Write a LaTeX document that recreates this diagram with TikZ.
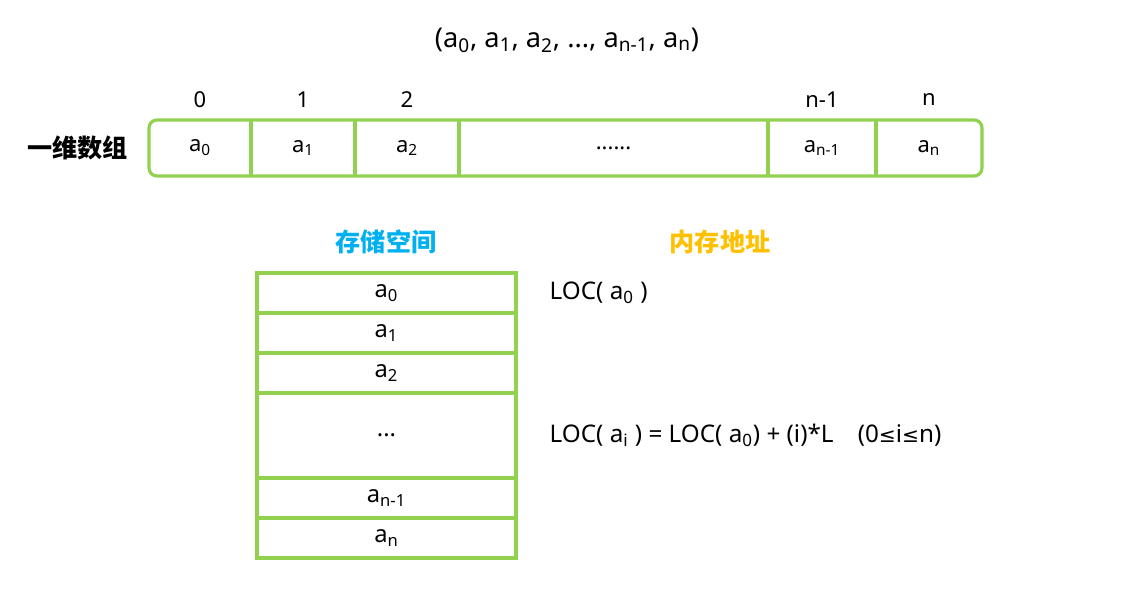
\documentclass[tikz,border=0pt]{standalone}
\usepackage{fontspec}
\setmainfont{Noto Sans}
\newfontfamily\cjkfont{Noto Sans CJK SC}
\newfontfamily\symfont{DejaVu Sans}
\usetikzlibrary{positioning}
\definecolor{cellgreen}{HTML}{92D050}
\definecolor{hdrblue}{HTML}{00B0F0}
\definecolor{hdrgold}{HTML}{FFC000}
\newcommand{\leqsym}{{\symfont\fontsize{11.5}{14}\selectfont ≤}}

\begin{document}
\begin{tikzpicture}[
  cell/.style={minimum height=1.12cm, inner sep=0pt, outer sep=0pt,
               font=\fontsize{12.5}{14}\selectfont},
  idx/.style={font=\fontsize{12.5}{14}\selectfont, inner sep=1pt},
  slot/.style={draw=cellgreen, line width=1.8pt, minimum width=5.18cm,
               minimum height=0.8cm, inner sep=0pt, outer sep=0pt,
               font=\fontsize{13.5}{15}\selectfont},
  hdr/.style={font=\cjkfont\bfseries\fontsize{14.3}{16}\selectfont},
  loc/.style={font=\fontsize{13.8}{16}\selectfont, anchor=west},
  edge/.style={draw=cellgreen, line width=1.8pt},
]
\useasboundingbox (0,0) rectangle (22.56,11.78);

%% ---- Sequence (top) ----
\node[font=\fontsize{15.5}{18}\selectfont] (tup) at (11.34, 10.98)
  {(a\textsubscript{0}, a\textsubscript{1}, a\textsubscript{2}, ..., a\textsubscript{n-1}, a\textsubscript{n})};

%% ---- One-dimensional array ----
\node[cell, minimum width=2.04cm] (c0) at (4.00, 8.82) {a\textsubscript{0}};
\node[cell, minimum width=2.08cm, right=0pt of c0] (c1) {a\textsubscript{1}};
\node[cell, minimum width=2.08cm, right=0pt of c1] (c2) {a\textsubscript{2}};
\node[cell, minimum width=6.18cm, right=0pt of c2] (cd) {......};
\node[cell, minimum width=2.16cm, right=0pt of cd] (cm) {a\textsubscript{n-1}};
\node[cell, minimum width=2.12cm, right=0pt of cm] (cn) {a\textsubscript{n}};

\draw[edge, rounded corners=4.5pt] (c0.north west) rectangle (cn.south east);
\foreach \a in {c0,c1,c2,cd,cm}
  \draw[edge] (\a.north east) -- (\a.south east);

\node[font=\cjkfont\bfseries\fontsize{14.3}{16}\selectfont, left=0.3cm of c0] (arr) {一维数组};

%% ---- Index labels ----
\node[idx] (i0) at (c0 |- 0,9.78) {0};
\node[idx] (i1) at (c1 |- 0,9.78) {1};
\node[idx] (i2) at (c2 |- 0,9.78) {2};
\node[idx] (im) at (cm |- 0,9.78) {n-1};
\node[idx] (in) at (cn |- 0,9.78) {n};

%% ---- Headers ----
\node[hdr, text=hdrblue] (hs) at (7.72, 6.94) {存储空间};
\node[hdr, text=hdrgold] (ha) at (14.40, 6.94) {内存地址};

%% ---- Storage column ----
\node[slot] (s0) at (7.73, 5.92) {a\textsubscript{0}};
\node[slot, below=0pt of s0] (s1) {a\textsubscript{1}};
\node[slot, below=0pt of s1] (s2) {a\textsubscript{2}};
\node[slot, below=0pt of s2, minimum height=1.7cm] (sd) {...};
\node[slot, below=0pt of sd] (sm) {a\textsubscript{n-1}};
\node[slot, below=0pt of sm] (sn) {a\textsubscript{n}};

%% ---- Addresses ----
\node[loc, right=0.55cm of s0] (l0) {LOC( a\textsubscript{0} )};
\node[loc, right=0.55cm of sd] (li)
  {LOC( a\textsubscript{i} ) = LOC( a\textsubscript{0}) + (i)*L\quad (0\leqsym i\leqsym n)};

\end{tikzpicture}
\end{document}
